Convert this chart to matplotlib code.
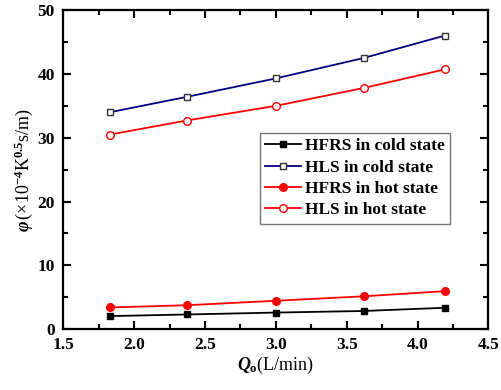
import matplotlib
matplotlib.use("Agg")
import matplotlib.pyplot as plt
from matplotlib.ticker import MultipleLocator

# data
qo = [1.83, 2.37, 3.0, 3.62, 4.19]
hfrs_cold = [2.05, 2.3, 2.6, 2.85, 3.35]
hls_cold = [34.0, 36.4, 39.3, 42.5, 46.0]
hfrs_hot = [3.4, 3.75, 4.45, 5.15, 5.95]
hls_hot = [30.5, 32.7, 35.0, 37.8, 40.7]

plt.rcParams['font.family'] = 'Liberation Serif'
plt.rcParams['font.weight'] = 'bold'
plt.rcParams['mathtext.fontset'] = 'custom'
plt.rcParams['mathtext.rm'] = 'Liberation Serif:bold'
plt.rcParams['mathtext.it'] = 'Liberation Serif:italic:bold'
plt.rcParams['mathtext.bf'] = 'Liberation Serif:bold'

fig = plt.figure(figsize=(5.02, 3.9), dpi=100)
ax = fig.add_axes([0.126, 0.156, 0.847, 0.818])

ax.plot(qo, hfrs_cold, color='black', lw=1.3, marker='s', ms=5,
        mfc='black', mec='black', label='HFRS in cold state')
ax.plot(qo, hls_cold, color='navy', lw=1.3, marker='s', ms=5,
        mfc='white', mec='#333333', label='HLS in cold state')
ax.plot(qo, hfrs_hot, color='red', lw=1.3, marker='o', ms=5.5,
        mfc='red', mec='red', label='HFRS in hot state')
ax.plot(qo, hls_hot, color='red', lw=1.3, marker='o', ms=5.5,
        mfc='white', mec='red', label='HLS in hot state')

ax.set_xlim(1.5, 4.5)
ax.set_ylim(0, 50)
ax.xaxis.set_major_locator(MultipleLocator(0.5))
ax.xaxis.set_minor_locator(MultipleLocator(0.25))
ax.yaxis.set_major_locator(MultipleLocator(10))
ax.yaxis.set_minor_locator(MultipleLocator(5))
ax.xaxis.set_major_formatter(matplotlib.ticker.FormatStrFormatter('%.1f'))

ax.tick_params(which='both', direction='in', top=True, right=True,
               width=1.5, labelsize=12.5, pad=6)
ax.tick_params(which='major', length=6)
ax.tick_params(which='minor', length=3.5)
for s in ax.spines.values():
    s.set_linewidth(1.6)

ax.set_xlabel(r'$Q_{\mathrm{o}}$(L/min)', fontsize=13, labelpad=1)
ax.set_ylabel(r'$\varphi\,$(×10$^{-4}$K$^{0.5}$s/m)', fontsize=13, labelpad=2)

leg = ax.legend(loc='upper left', bbox_to_anchor=(0.462, 0.615), fontsize=12.5,
                frameon=True, fancybox=False, edgecolor='#555555',
                handlelength=2.1, handletextpad=0.2, labelspacing=0.3,
                borderpad=0.3, borderaxespad=0)
leg.get_frame().set_linewidth(1.0)

plt.savefig("out.png", dpi=100)
